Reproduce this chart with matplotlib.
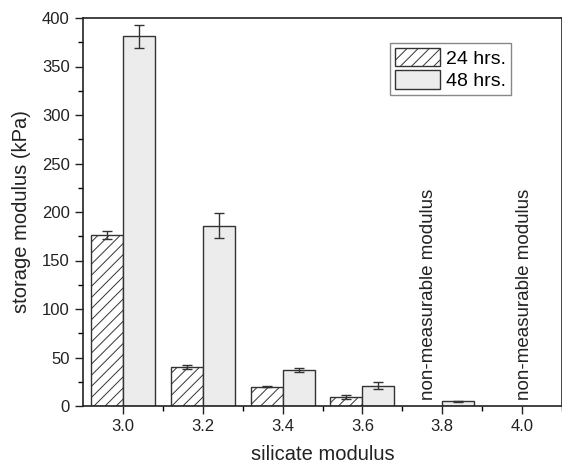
import numpy as np
import matplotlib
matplotlib.use("Agg")
import matplotlib.pyplot as plt

plt.rcParams['font.family'] = ['Liberation Sans', 'DejaVu Sans']
plt.rcParams['hatch.color'] = '#555555'
plt.rcParams['hatch.linewidth'] = 0.7

# data
modulus = [3.0, 3.2, 3.4, 3.6, 3.8, 4.0]
h24 = [176, 40, 20, 9, np.nan, np.nan]
h24_err = [4, 2, 0.5, 2, np.nan, np.nan]
h48 = [381, 186, 37, 21, 5, np.nan]
h48_err = [12, 13, 2, 3.5, 0.6, np.nan]
nm_pos = [3.765, 4.005]

fig = plt.figure(figsize=(5.62, 4.67), dpi=100)
ax = fig.add_axes([83/562, 61/467, 479/562, 388/467])

w = 0.08
x = np.array(modulus)

# 24 hrs
ax.bar(x - w/2, h24, width=w, color='white', edgecolor='#333333',
       hatch='///', linewidth=1, label='24 hrs.')
ax.errorbar(x - w/2, h24, yerr=h24_err, fmt='none', ecolor='#333333',
            elinewidth=1, capsize=3.5, capthick=1)

# 48 hrs
ax.bar(x + w/2, h48, width=w, color='#ececec', edgecolor='#333333',
       linewidth=1, label='48 hrs.')
ax.errorbar(x + w/2, h48, yerr=h48_err, fmt='none', ecolor='#333333',
            elinewidth=1, capsize=3.5, capthick=1)

for p in nm_pos:
    ax.text(p, 6, 'non-measurable modulus', rotation=90, ha='center',
            va='bottom', fontsize=13.5, color='#222222')

ax.set_xlim(2.9, 2.9 + 479/400)
ax.set_ylim(0, 400)
ax.set_xticks(modulus)
ax.set_xticklabels([f'{m:.1f}' for m in modulus])
ax.set_xticks([3.1, 3.3, 3.5, 3.7, 3.9, 4.1], minor=True)
ax.set_yticks(np.arange(0, 401, 50))
ax.set_yticks(np.arange(25, 400, 50), minor=True)

ax.tick_params(which='major', direction='out', length=6, width=1,
               labelsize=12, colors='#222222')
ax.tick_params(which='minor', direction='out', length=3.5, width=1)
for s in ax.spines.values():
    s.set_linewidth(1.2)
    s.set_color('#222222')

ax.set_xlabel('silicate modulus', fontsize=14.5, color='#222222', labelpad=8)
ax.set_ylabel('storage modulus (kPa)', fontsize=14.5, color='#222222',
              labelpad=8)

leg = ax.legend(loc='upper right', bbox_to_anchor=(0.893, 0.936),
                fontsize=14, fancybox=False, framealpha=1,
                edgecolor='#888888', borderpad=0.25, labelspacing=0.12,
                handlelength=2.3, handleheight=1.1, handletextpad=0.3,
                borderaxespad=0)
leg.get_frame().set_linewidth(1)

fig.savefig('out.png', dpi=100)
